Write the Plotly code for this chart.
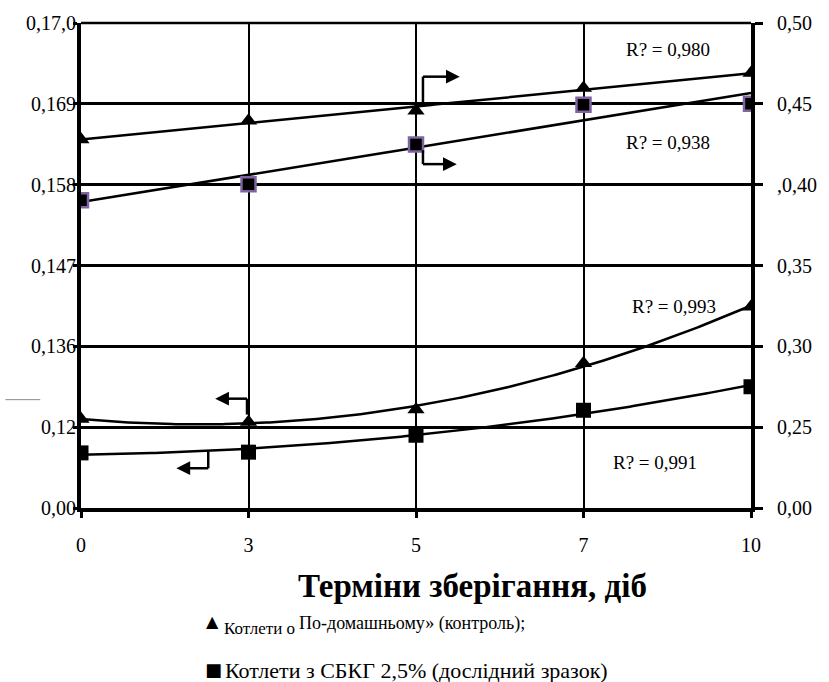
import numpy as np
import plotly.graph_objects as go

# ---- data ----
days = ["0", "3", "5", "7", "10"]
x_idx = [0, 1, 2, 3, 4]

# right axis series (upper group)
control_right = [0.428, 0.4395, 0.4457, 0.4598, 0.469]
sample_right = [0.3903, 0.4002, 0.4248, 0.4494, 0.450]

# left axis series (lower group)
control_left = [0.1261, 0.1257, 0.1274, 0.1337, 0.1414]
sample_left = [0.1215, 0.1216, 0.1239, 0.1273, 0.1305]

left_tickvals = [0.114, 0.125, 0.136, 0.147, 0.158, 0.169, 0.180]
left_ticktext = ["0,00", "0,12", "0,136", "0,147", "0,158", "0,169", "0,17,0"]
right_tickvals = [0.20, 0.25, 0.30, 0.35, 0.40, 0.45, 0.50]
right_ticktext = ["0,00", "0,25", "0,30", "0,35", ",0,40", "0,45", "0,50"]

r2_labels = ["R? = 0,980", "R? = 0,938", "R? = 0,993", "R? = 0,991"]
x_title = "Терміни зберігання, діб"
legend1a = "Котлети о"
legend1b = "По-домашньому» (контроль);"
legend2 = "Котлети з СБКГ 2,5% (дослідний зразок)"

FONT = "Liberation Serif"
W, H = 829, 682
L, R, T, B = 81, 74, 20, 174
PW, PH = W - L - R, H - T - B


def px(xp):
    return (xp - L) / PW


def py(yp):
    return (H - B - yp) / PH


xs = np.linspace(0, 4, 200)


def fit(vals, deg):
    c = np.polyfit(x_idx, vals, deg)
    return np.polyval(c, xs)


fig = go.Figure()

# trendlines
for vals, deg, ax in [(control_right, 1, "y2"), (sample_right, 1, "y2"),
                      (control_left, 2, "y"), (sample_left, 2, "y")]:
    fig.add_trace(go.Scatter(x=xs, y=fit(vals, deg), mode="lines", yaxis=ax,
                             line=dict(color="black", width=2.5),
                             showlegend=False, hoverinfo="skip"))

# markers
fig.add_trace(go.Scatter(x=x_idx, y=control_right, mode="markers", yaxis="y2",
                         marker=dict(symbol="triangle-up", size=15, color="black"),
                         showlegend=False))
fig.add_trace(go.Scatter(x=x_idx, y=sample_right, mode="markers", yaxis="y2",
                         marker=dict(symbol="square", size=14, color="black",
                                     line=dict(color="#8064A2", width=2.5)),
                         showlegend=False))
fig.add_trace(go.Scatter(x=x_idx, y=control_left, mode="markers", yaxis="y",
                         marker=dict(symbol="triangle-up", size=15, color="black"),
                         showlegend=False))
fig.add_trace(go.Scatter(x=x_idx, y=sample_left, mode="markers", yaxis="y",
                         marker=dict(symbol="square", size=15, color="black"),
                         showlegend=False))

shapes = []
# arrow stems (pixel positions converted to paper)
for (x0, y0, x1, y1) in [
    (425, 102, 425, 74), (425, 74, 455, 74),
    (425, 148, 425, 162), (425, 162, 452, 162),
    (248, 414, 248, 398), (248, 398, 222, 398),
    (209, 451, 209, 468), (209, 468, 183, 468),
]:
    shapes.append(dict(type="line", xref="paper", yref="paper",
                       x0=px(x0), y0=py(y0), x1=px(x1), y1=py(y1),
                       line=dict(color="black", width=2.5)))
# top border
shapes.append(dict(type="line", xref="paper", yref="paper", x0=0, x1=1, y0=1, y1=1,
                   line=dict(color="black", width=2.5)))
# tiny stray mark at left
shapes.append(dict(type="line", xref="paper", yref="paper",
                   x0=px(5), x1=px(40), y0=py(399), y1=py(399),
                   line=dict(color="#888888", width=1)))

annotations = []
# arrow heads
for (hx, hy, dx) in [(462, 74, -12), (459, 162, -12), (216, 398, 12), (177, 468, 12)]:
    annotations.append(dict(xref="paper", yref="paper", x=px(hx), y=py(hy),
                            ax=dx, ay=0, showarrow=True, arrowhead=2,
                            arrowsize=1.1, arrowwidth=2.5, arrowcolor="black",
                            text=""))


def label(text, cx, cy, size, family=FONT, xanchor="center"):
    annotations.append(dict(xref="paper", yref="paper", x=px(cx), y=py(cy),
                            xanchor=xanchor, yanchor="middle",
                            text=text, showarrow=False,
                            font=dict(family=family, size=size, color="black")))


# R^2 labels
for txt, (cx, cy) in zip(r2_labels, [(672, 47), (672, 140), (678, 305), (658, 462)]):
    label(txt, cx, cy, 19)
# x title
label("<b>" + x_title + "</b>", 475, 586, 33)
# legend
label("▲", 205, 622, 16, family="DejaVu Sans", xanchor="left")
label(legend1a, 223, 629, 17, xanchor="left")
label(legend1b, 298, 624, 18, xanchor="left")
label("■", 204, 671, 18, family="DejaVu Sans", xanchor="left")
label(legend2, 224, 672, 22, xanchor="left")

fig.update_layout(
    width=W, height=H,
    margin=dict(l=L, r=R, t=T, b=B, pad=0),
    paper_bgcolor="white", plot_bgcolor="white",
    font=dict(family=FONT, size=19, color="black"),
    showlegend=False,
    xaxis=dict(range=[0, 4], tickvals=x_idx, ticktext=days,
               showgrid=True, gridcolor="black", gridwidth=2,
               showline=True, linecolor="black", linewidth=4,
               ticks="outside", ticklen=6, tickwidth=3, tickcolor="black",
               ticklabelstandoff=10, zeroline=False,
               tickfont=dict(family=FONT, size=20)),
    yaxis=dict(range=[0.114, 0.180], tickvals=left_tickvals, ticktext=left_ticktext,
               showgrid=True, gridcolor="black", gridwidth=2.5,
               showline=True, linecolor="black", linewidth=4,
               ticks="outside", ticklen=4, tickwidth=3, tickcolor="black",
               ticklabelstandoff=-7, zeroline=False,
               tickfont=dict(family=FONT, size=20)),
    yaxis2=dict(range=[0.20, 0.50], tickvals=right_tickvals, ticktext=right_ticktext,
                overlaying="y", side="right", showgrid=False,
                showline=True, linecolor="black", linewidth=4,
                ticks="outside", ticklen=8, tickwidth=3, tickcolor="black",
                ticklabelstandoff=10, zeroline=False,
                tickfont=dict(family=FONT, size=20)),
    shapes=shapes,
    annotations=annotations,
)

fig.write_html("out.html")
